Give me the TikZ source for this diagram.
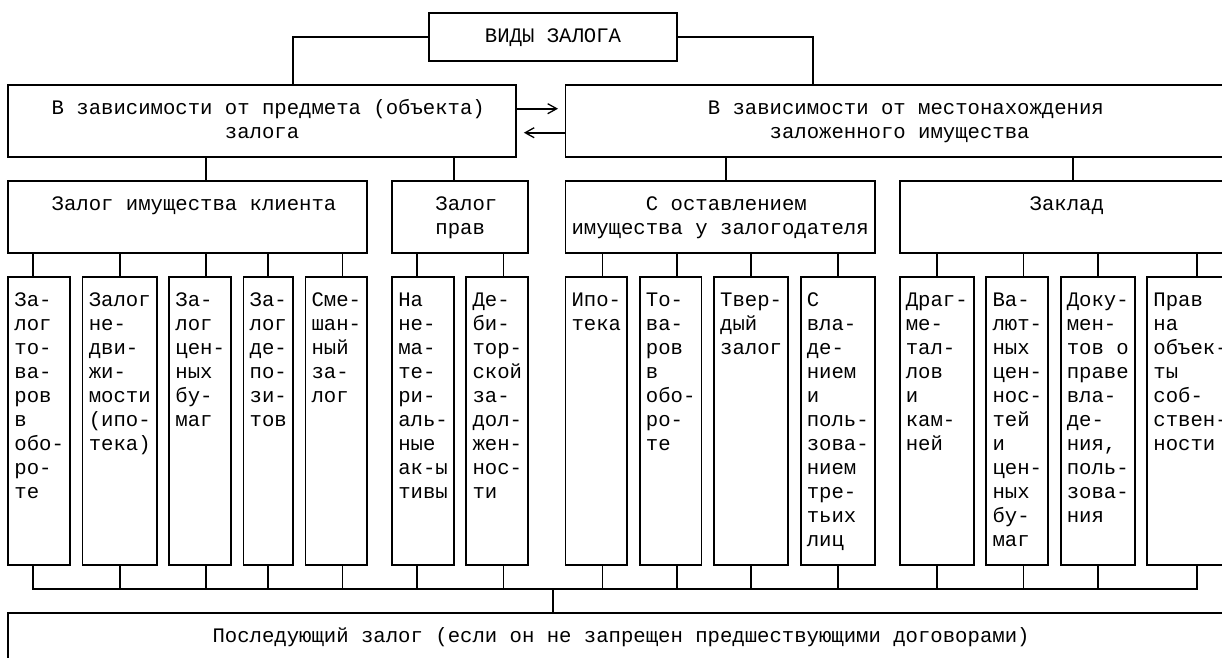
\documentclass[tikz,border=0pt]{standalone}
\usepackage{fontspec}
\newfontfamily\zmono{Liberation Mono}
\usetikzlibrary{fit,arrows.meta}
\tikzset{
  box/.style={draw, line width=1.8pt, inner sep=0pt, outer sep=0pt},
  wire/.style={line width=1.8pt},
  lbl/.style={inner sep=0pt, outer sep=0pt, font=\zmono\fontsize{20.63}{24}\selectfont},
  one/.style={lbl, anchor=base west},
  multi/.style={lbl, align=left, anchor=north west},
  barb/.style={wire, -{Straight Barb[length=9pt,width=10pt,line width=1.3pt]}},
}
\begin{document}
\begin{tikzpicture}[x=12.38pt, y=-24pt]
\useasboundingbox (-0.6704,-0.5292) rectangle (98.0372,26.8458);
\clip (-0.6704,-0.5292) rectangle (98.0372,26.8458);

% ---------- boxes ----------
\node[box, fit={(34,0) (54,2)}] (top) {};
\node[box, fit={(0,3) (41,6)}] (A) {};
\node[box, fit={(45,3) (99,6)}] (B) {};
\node[box, fit={(0,7) (29,10)}] (C1) {};
\node[box, fit={(31,7) (42,10)}] (C2) {};
\node[box, fit={(45,7) (70,10)}] (C3) {};
\node[box, fit={(72,7) (99,10)}] (C4) {};
\node[box, fit={(0,11) (5,23)}] (L1) {};
\node[box, fit={(6,11) (12,23)}] (L2) {};
\node[box, fit={(13,11) (18,23)}] (L3) {};
\node[box, fit={(19,11) (23,23)}] (L4) {};
\node[box, fit={(24,11) (29,23)}] (L5) {};
\node[box, fit={(31,11) (36,23)}] (L6) {};
\node[box, fit={(37,11) (42,23)}] (L7) {};
\node[box, fit={(45,11) (50,23)}] (L8) {};
\node[box, fit={(51,11) (56,23)}] (L9) {};
\node[box, fit={(57,11) (63,23)}] (L10) {};
\node[box, fit={(64,11) (70,23)}] (L11) {};
\node[box, fit={(72,11) (78,23)}] (L12) {};
\node[box, fit={(79,11) (84,23)}] (L13) {};
\node[box, fit={(85,11) (91,23)}] (L14) {};
\node[box, fit={(92,11) (99,23)}] (L15) {};
\node[box, fit={(0,25) (99,27)}] (bot) {};

% ---------- texts ----------
\node[one] (tTop) at (38.5,1.229) {ВИДЫ ЗАЛОГА};
\node[one] (tA1) at (3.5,4.229) {В зависимости от предмета (объекта)};
\node[one] (tA2) at (17.5,5.229) {залога};
\node[one] (tB1) at (56.5,4.229) {В зависимости от местонахождения};
\node[one] (tB2) at (61.5,5.229) {заложенного имущества};
\node[one] (tC1) at (3.5,8.229) {Залог имущества клиента};
\node[multi] (tC2) at (34.5,7.529) {\strut Залог\\прав};
\node[one] (tC3a) at (51.5,8.229) {С оставлением};
\node[one] (tC3b) at (45.5,9.229) {имущества у залогодателя};
\node[one] (tC4) at (82.5,8.229) {Заклад};

\node[multi] (tL1) at (0.5,11.529) {\strut За-\\лог\\то-\\ва-\\ров\\в\\обо-\\ро-\\те};
\node[multi] (tL2) at (6.5,11.529) {\strut Залог\\не-\\дви-\\жи-\\мости\\(ипо-\\тека)};
\node[multi] (tL3) at (13.5,11.529) {\strut За-\\лог\\цен-\\ных\\бу-\\маг};
\node[multi] (tL4) at (19.5,11.529) {\strut За-\\лог\\де-\\по-\\зи-\\тов};
\node[multi] (tL5) at (24.5,11.529) {\strut Сме-\\шан-\\ный\\за-\\лог};
\node[multi] (tL6) at (31.5,11.529) {\strut На\\не-\\ма-\\те-\\ри-\\аль-\\ные\\ак-ы\\тивы};
\node[multi] (tL7) at (37.5,11.529) {\strut Де-\\би-\\тор-\\ской\\за-\\дол-\\жен-\\нос-\\ти};
\node[multi] (tL8) at (45.5,11.529) {\strut Ипо-\\тека};
\node[multi] (tL9) at (51.5,11.529) {\strut То-\\ва-\\ров\\в\\обо-\\ро-\\те};
\node[multi] (tL10) at (57.5,11.529) {\strut Твер-\\дый\\залог};
\node[multi] (tL11) at (64.5,11.529) {\strut С\\вла-\\де-\\нием\\и\\поль-\\зова-\\нием\\тре-\\тьих\\лиц};
\node[multi] (tL12) at (72.5,11.529) {\strut Драг-\\ме-\\тал-\\лов\\и\\кам-\\ней};
\node[multi] (tL13) at (79.5,11.529) {\strut Ва-\\лют-\\ных\\цен-\\нос-\\тей\\и\\цен-\\ных\\бу-\\маг};
\node[multi] (tL14) at (85.5,11.529) {\strut Доку-\\мен-\\тов о\\праве\\вла-\\де-\\ния,\\поль-\\зова-\\ния};
\node[multi] (tL15) at (92.5,11.529) {\strut Прав\\на\\объек-\\ты\\соб-\\ствен-\\ности};
\node[one] (tBot) at (16.5,26.229) {Последующий залог (если он не запрещен предшествующими договорами)};

% ---------- connector columns ----------
\foreach \c in {2,9,16,21,23,27,33,36,40,44,48,54,58,60,65,67,75,82,86,88,96}
  {\coordinate (k\c) at (\c,0);}
\coordinate (r4) at (0,4);
\coordinate (r5) at (0,5);
\coordinate (bus) at (0,24);

% top branches
\draw[wire] (top.west) -| (k23 |- A.north);
\draw[wire] (top.east) -| (k65 |- B.north);

% arrows between the two groups
\draw[barb, shorten >=7.4pt] (r4 -| A.east) -- (r4 -| B.west);
\draw[barb, shorten >=8pt] (r5 -| B.west) -- (r5 -| A.east);

% level 2 -> level 3
\draw[wire] (k16 |- A.south) -- (k16 |- C1.north);
\draw[wire] (k36 |- A.south) -- (k36 |- C2.north);
\draw[wire] (k58 |- B.south) -- (k58 |- C3.north);
\draw[wire] (k86 |- B.south) -- (k86 |- C4.north);

% level 3 -> leaves, leaves -> bus
\foreach \c/\p/\l in {2/C1/L1, 9/C1/L2, 16/C1/L3, 21/C1/L4, 27/C1/L5,
                      33/C2/L6, 40/C2/L7,
                      48/C3/L8, 54/C3/L9, 60/C3/L10, 67/C3/L11,
                      75/C4/L12, 82/C4/L13, 88/C4/L14, 96/C4/L15}{
  \draw[wire] (k\c |- \p.south) -- (k\c |- \l.north);
  \draw[wire] (k\c |- \l.south) -- (k\c |- bus);
}
\draw[wire] (k2 |- L1.south) -- (k2 |- bus) -- (k96 |- bus) -- (k96 |- L15.south);
\draw[wire] (k44 |- bus) -- (k44 |- bot.north);
\end{tikzpicture}
\end{document}
